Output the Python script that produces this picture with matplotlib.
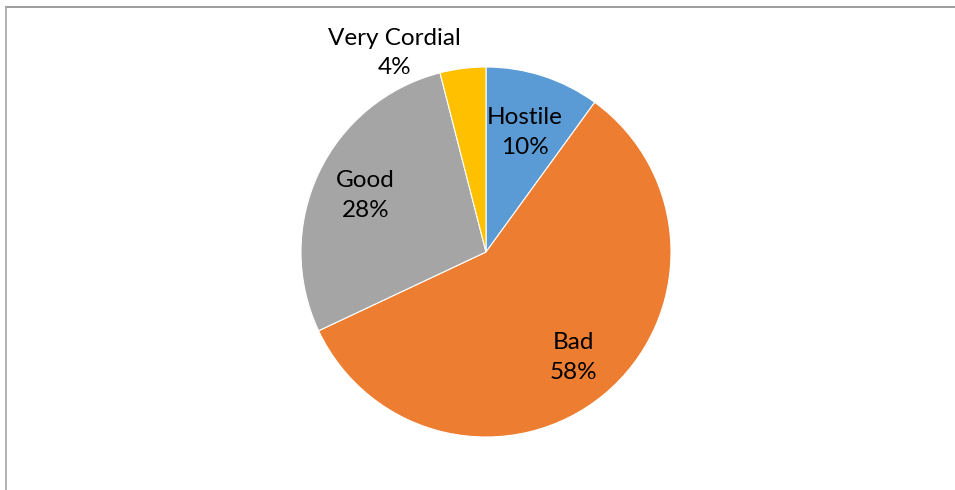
import numpy as np
import matplotlib.pyplot as plt
from matplotlib.lines import Line2D

labels = ['Hostile', 'Bad', 'Good', 'Very Cordial']
values = [10, 58, 28, 4]
colors = ['#5B9BD5', '#ED7D31', '#A5A5A5', '#FFC000']

plt.rcParams['font.family'] = ['Lato', 'DejaVu Sans']

fig = plt.figure(figsize=(9.55, 4.9), dpi=100)
ax = fig.add_axes([0, 0, 1, 1])

cx, cy, r = 486, 490 - 252, 185
wedges, _ = ax.pie(values, colors=colors, startangle=90, counterclock=False,
                   center=(cx, cy), radius=r,
                   wedgeprops=dict(edgecolor='white', linewidth=0.8))
ax.set_xlim(0, 955)
ax.set_ylim(0, 490)
ax.set_aspect('equal')
ax.axis('off')

# data labels: category name + percentage
total = sum(values)
dist = {'Hostile': 0.68, 'Bad': 0.74, 'Good': 0.72}
for w, lab, v in zip(wedges, labels, values):
    mid = np.deg2rad((w.theta1 + w.theta2) / 2)
    txt = f'{lab}\n{v / total:.0%}'
    if lab == 'Very Cordial':
        # small slice, label sits outside the pie
        x = cx + 1.2 * r * np.cos(mid) - 64
        y = cy + 1.2 * r * np.sin(mid) - 21
    else:
        x = cx + dist[lab] * r * np.cos(mid)
        y = cy + dist[lab] * r * np.sin(mid)
    ax.text(x, y, txt, ha='center', va='center', fontsize=17.5,
            linespacing=1.5, color='#000000')

# chart area frame (top and left edges)
fig.add_artist(Line2D([6 / 955, 1], [1 - 7 / 490, 1 - 7 / 490],
                      transform=fig.transFigure, color='#8c8c8c', lw=1.2))
fig.add_artist(Line2D([6 / 955, 6 / 955], [0, 1 - 7 / 490],
                      transform=fig.transFigure, color='#a6a6a6', lw=1.2))

fig.savefig('out.png', dpi=100)
